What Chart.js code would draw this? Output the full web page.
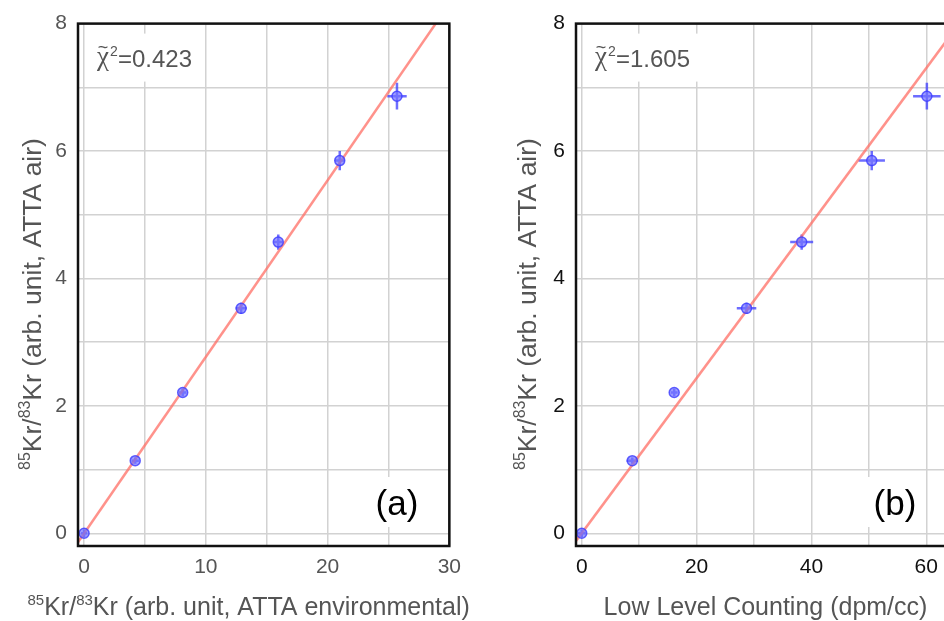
<!DOCTYPE html>
<html>
<head>
<meta charset="utf-8">
<script src="https://cdn.jsdelivr.net/npm/chart.js@4.4.1/dist/chart.umd.min.js"></script>
<style>
  html, body { margin: 0; padding: 0; background: #fff; overflow: hidden; }
  body { width: 944px; height: 621px; position: relative; }
  .panel { position: absolute; top: 0; height: 621px; }
  #boxA { left: 0; width: 470px; }
  #boxB { left: 470px; width: 520px; }
</style>
</head>
<body>
<div class="panel" id="boxA"><canvas id="chartA" width="470" height="621"></canvas></div>
<div class="panel" id="boxB"><canvas id="chartB" width="520" height="621"></canvas></div>
<script>
// 85Kr/83Kr measured by ATTA on air samples (y of both panels)
var attaAir = [0, 1.14, 2.21, 3.53, 4.57, 5.85, 6.86];
var attaAirErr = [0.06, 0.05, 0.06, 0.09, 0.12, 0.15, 0.21];

// panel (a): ATTA environmental
var attaEnv = [0.0, 4.2, 8.1, 12.9, 15.95, 21.0, 25.7];
var attaEnvErr = [0.25, 0.3, 0.3, 0.45, 0.35, 0.4, 0.8];
var fitAx = [-0.5, 30];
var fitAy = [-0.14, 8.31];

// panel (b): low level counting
var llc = [0.0, 8.8, 16.1, 28.7, 38.3, 50.5, 60.1];
var llcErr = [0.7, 1.0, 0.6, 1.7, 2.0, 2.3, 2.4];
var fitBx = [-1, 65];
var fitBy = [-0.12, 7.91];

// ticks / grid
var yTicks = [0, 1, 2, 3, 4, 5, 6, 7, 8];
var yLabeled = [0, 2, 4, 6, 8];
var xTicksA = [0, 5, 10, 15, 20, 25, 30];
var xLabeledA = [0, 10, 20, 30];
var xTicksB = [0, 10, 20, 30, 40, 50, 60];
var xLabeledB = [0, 20, 40, 60];

var xTitleA = [['85', 1], ['Kr/', 0], ['83', 1], ['Kr (arb. unit, ATTA environmental)', 0]];
var xTitleB = [['Low Level Counting (dpm/cc)', 0]];
var yTitle = [['85', 1], ['Kr/', 0], ['83', 1], ['Kr (arb. unit, ATTA air)', 0]];

var FONT = "'Liberation Sans', Arial, sans-serif";

function richWidth(ctx, parts, size) {
    var w = 0;
    parts.forEach(function (p) {
        ctx.font = (p[1] ? size * 0.6 : size) + 'px ' + FONT;
        w += ctx.measureText(p[0]).width;
    });
    return w;
}

// draws text with superscript runs, x = start, y = baseline
function drawRich(ctx, parts, x, y, size) {
    ctx.textAlign = 'left';
    ctx.textBaseline = 'alphabetic';
    parts.forEach(function (p) {
        var s = p[1] ? size * 0.6 : size;
        ctx.font = s + 'px ' + FONT;
        ctx.fillText(p[0], x, p[1] ? y - size * 0.42 : y);
        x += ctx.measureText(p[0]).width;
    });
}

var decoPlugin = {
    id: 'deco',
    beforeDatasetsDraw: function (chart, args, o) {
        var ctx = chart.ctx, a = chart.chartArea;
        var xs = chart.scales.x, ys = chart.scales.y;
        ctx.save();
        // white boxes behind the annotations
        ctx.fillStyle = '#fff';
        ctx.fillRect(a.left + 12, a.top + 10, 112, 48);
        ctx.fillRect(a.left + 291, a.bottom - 69, 56, 50);

        // chi^2 annotation
        var x0 = a.left + 19, base = 67;
        ctx.fillStyle = '#555';
        ctx.textAlign = 'left';
        ctx.textBaseline = 'alphabetic';
        ctx.font = "27px 'Liberation Serif', serif";
        ctx.fillText('\u03c7', x0, base - 2);
        var cw = ctx.measureText('\u03c7').width;
        ctx.font = '18px ' + FONT;
        ctx.textAlign = 'center';
        ctx.textBaseline = 'middle';
        ctx.fillText('~', x0 + cw / 2, 48);
        ctx.textAlign = 'left';
        ctx.textBaseline = 'alphabetic';
        ctx.font = '14px ' + FONT;
        ctx.fillText('2', x0 + cw + 1, 56);
        ctx.font = '24px ' + FONT;
        ctx.fillText('=' + o.chi, x0 + cw + 9, base);

        // panel label
        ctx.fillStyle = '#000';
        ctx.font = '35px ' + FONT;
        ctx.textAlign = 'center';
        ctx.fillText(o.panel, a.left + 319, a.bottom - 31.5);

        // error bars
        var px = o.px, pxe = o.pxe, py = o.py, pye = o.pye;
        ctx.strokeStyle = 'rgba(60,60,255,0.75)';
        ctx.lineWidth = 2.5;
        ctx.beginPath();
        for (var i = 0; i < px.length; i++) {
            var cx = xs.getPixelForValue(px[i]), cy = ys.getPixelForValue(py[i]);
            ctx.moveTo(xs.getPixelForValue(px[i] - pxe[i]), cy);
            ctx.lineTo(xs.getPixelForValue(px[i] + pxe[i]), cy);
            ctx.moveTo(cx, ys.getPixelForValue(py[i] - pye[i]));
            ctx.lineTo(cx, ys.getPixelForValue(py[i] + pye[i]));
        }
        ctx.stroke();
        ctx.restore();
    },
    afterDraw: function (chart, args, o) {
        var ctx = chart.ctx, a = chart.chartArea;
        ctx.save();
        ctx.strokeStyle = '#111';
        ctx.lineWidth = 2.5;
        ctx.strokeRect(a.left, a.top, a.right - a.left, a.bottom - a.top);

        ctx.fillStyle = '#555';
        var w = richWidth(ctx, o.xTitle, 25);
        drawRich(ctx, o.xTitle, (a.left + a.right) / 2 + o.xTitleDx - w / 2, 615, 25);

        ctx.translate(o.yTitleX, 304);
        ctx.rotate(-Math.PI / 2);
        var wy = richWidth(ctx, yTitle, 26.5);
        drawRich(ctx, yTitle, -wy / 2, 0, 26.5);
        ctx.restore();
    }
};

function makeChart(id, xv, xe, fx, fy, xmin, xmax, xTicks, xLabeled, yAxisW, padRight, tickColor, deco) {
    var ctx = document.getElementById(id).getContext('2d');
    return new Chart(ctx, {
        type: 'scatter',
        data: {
            datasets: [{
                label: 'fit',
                data: fx.map(function (x, i) { return { x: x, y: fy[i] }; }),
                showLine: true,
                borderColor: 'rgba(255,110,100,0.75)',
                borderWidth: 2.5,
                pointRadius: 0,
                order: 2
            }, {
                label: 'data',
                data: xv.map(function (x, i) { return { x: x, y: attaAir[i] }; }),
                pointRadius: 5,
                backgroundColor: 'rgba(115,115,255,0.7)',
                borderColor: 'rgba(60,60,255,0.8)',
                borderWidth: 1.5,
                order: 1
            }]
        },
        options: {
            responsive: false,
            animation: false,
            layout: { padding: { top: 23, right: padRight, left: 0, bottom: 0 } },
            plugins: {
                legend: { display: false },
                tooltip: { enabled: false },
                deco: deco
            },
            scales: {
                x: {
                    type: 'linear',
                    min: xmin,
                    max: xmax,
                    afterBuildTicks: function (s) { s.ticks = xTicks.map(function (v) { return { value: v }; }); },
                    afterFit: function (s) { s.height = 75; },
                    grid: { color: '#d2d2d2', lineWidth: 1.5, drawTicks: false },
                    border: { display: false },
                    ticks: {
                        padding: 9,
                        color: tickColor,
                        font: { family: FONT, size: 21 },
                        maxRotation: 0,
                        autoSkip: false,
                        callback: function (v) { return xLabeled.indexOf(v) >= 0 ? String(v) : ''; }
                    }
                },
                y: {
                    type: 'linear',
                    min: -0.2,
                    max: 8,
                    afterBuildTicks: function (s) { s.ticks = yTicks.map(function (v) { return { value: v }; }); },
                    afterFit: function (s) { s.width = yAxisW; },
                    grid: { color: '#d2d2d2', lineWidth: 1.5, drawTicks: false },
                    border: { display: false },
                    ticks: {
                        padding: 11,
                        color: tickColor,
                        font: { family: FONT, size: 21 },
                        autoSkip: false,
                        callback: function (v) { return yLabeled.indexOf(v) >= 0 ? String(v) : ''; }
                    }
                }
            }
        },
        plugins: [decoPlugin]
    });
}

window.onload = function () {
    makeChart('chartA', attaEnv, attaEnvErr, fitAx, fitAy, -0.5, 30, xTicksA, xLabeledA, 78, 13, '#555', {
        chi: '0.423', panel: '(a)', xTitle: xTitleA, xTitleDx: -15, yTitleX: 41,
        px: attaEnv, pxe: attaEnvErr, py: attaAir, pye: attaAirErr
    });
    makeChart('chartB', llc, llcErr, fitBx, fitBy, -1, 65, xTicksB, xLabeledB, 106, 35, '#111', {
        chi: '1.605', panel: '(b)', xTitle: xTitleB, xTitleDx: 0, yTitleX: 66,
        px: llc, pxe: llcErr, py: attaAir, pye: attaAirErr
    });
};
</script>
</body>
</html>
